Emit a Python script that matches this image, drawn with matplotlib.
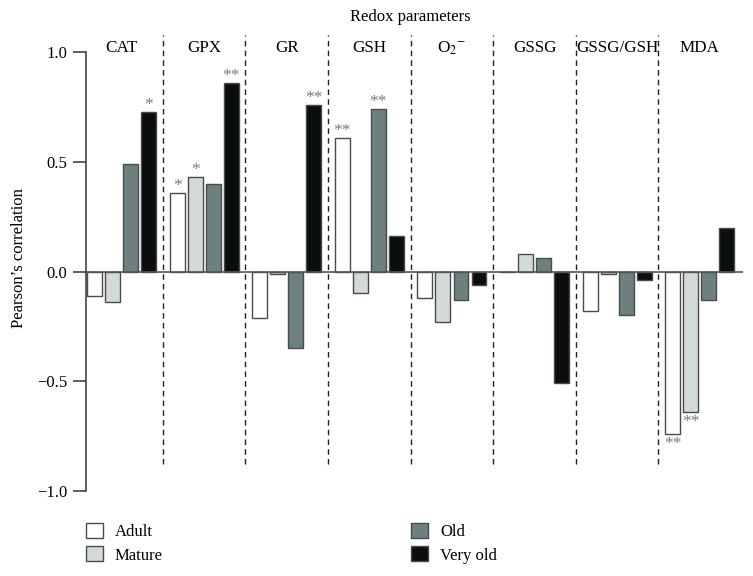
import matplotlib

matplotlib.use("Agg")
import matplotlib.pyplot as plt
import numpy as np

plt.rcParams["font.family"] = ["Liberation Serif", "DejaVu Serif"]
plt.rcParams["mathtext.fontset"] = "stix"

# data
params = ["CAT", "GPX", "GR", "GSH", r"O$_2$$^{-}$", "GSSG", "GSSG/GSH", "MDA"]
ages = ["Adult", "Mature", "Old", "Very old"]
adult = [-0.11, 0.36, -0.21, 0.61, -0.12, 0.0, -0.18, -0.74]
mature = [-0.14, 0.43, -0.01, -0.10, -0.23, 0.08, -0.01, -0.64]
old = [0.49, 0.40, -0.35, 0.74, -0.13, 0.06, -0.20, -0.13]
very_old = [0.73, 0.86, 0.76, 0.16, -0.06, -0.51, -0.04, 0.20]
sig_adult = ["", "*", "", "**", "", "", "", "**"]
sig_mature = ["", "*", "", "", "", "", "", "**"]
sig_old = ["", "", "", "**", "", "", "", ""]
sig_very_old = ["*", "**", "**", "", "", "", "", ""]

series = [adult, mature, old, very_old]
stars = [sig_adult, sig_mature, sig_old, sig_very_old]
fills = ["#ffffff", "#d3dbd9", "#6c807f", "#0a0e0d"]

fig = plt.figure(figsize=(7.53, 5.76), dpi=100)
ax = fig.add_axes([86 / 753, 1 - 490.7 / 576, 656.7 / 753, 482.2 / 576])

x = np.arange(len(params))
offsets = [-0.327, -0.109, 0.109, 0.327]
width = 0.18
for vals, sig, col, off, lab in zip(series, stars, fills, offsets, ages):
    ax.bar(x + off, vals, width, color=col, edgecolor="#4a4a4a", linewidth=1.0,
           label=lab, zorder=3)
    for xi, v, s in zip(x, vals, sig):
        if not s:
            continue
        if v >= 0:
            ax.text(xi + off, v - 0.005, s, ha="center", va="bottom",
                    fontsize=12.5, color="#7a7a7a")
        else:
            ax.text(xi + off, v - 0.01, s, ha="center", va="top",
                    fontsize=12.5, color="#7a7a7a")

for d in x[:-1] + 0.5:
    ax.plot([d, d], [-0.88, 1.08], ls=(0, (4, 3)), color="#222222", lw=1.0,
            clip_on=False, zorder=2)

for xi, name in zip(x, params):
    ax.text(xi, 1.02, name, ha="center", va="center", fontsize=12.3)
ax.text(3.5, 1.161, "Redox parameters", ha="center", va="center", fontsize=12)

ax.axhline(0, color="#555555", lw=1.2, zorder=4)
ax.set_xlim(-0.43, 7.52)
ax.set_ylim(-1.0, 1.2)
ax.set_yticks([-1.0, -0.5, 0.0, 0.5, 1.0])
ax.set_yticklabels(["\u22121.0", "\u22120.5", "0.0", "0.5", "1.0"], fontsize=12)
ax.tick_params(axis="y", length=9.5, width=1.1, color="#333333", pad=4)
ax.set_xticks([])
for side in ["top", "right", "bottom"]:
    ax.spines[side].set_visible(False)
ax.spines["left"].set_bounds(-1.0, 1.0)
ax.spines["left"].set_color("#333333")
ax.spines["left"].set_linewidth(1.1)
ax.set_ylabel("Pearson\u2019s correlation", fontsize=12)
ax.yaxis.set_label_coords(-0.09, 0.483)

ax.legend(ncol=2, loc="upper left", bbox_to_anchor=(86 / 753, 1 - 523 / 576),
          bbox_transform=fig.transFigure, frameon=False, fontsize=12,
          handlelength=1.02, handleheight=1.02, handletextpad=0.72,
          labelspacing=0.36, columnspacing=14.9, borderpad=0, borderaxespad=0)

fig.savefig("out.png", dpi=100)
